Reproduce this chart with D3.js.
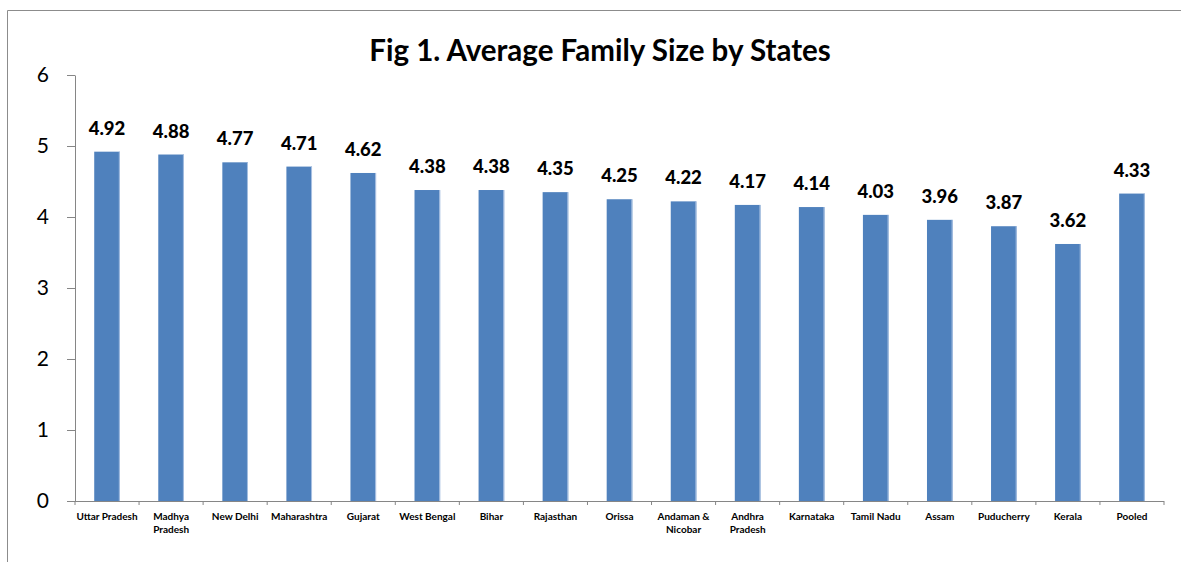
<!DOCTYPE html>
<html>
<head>
<meta charset="utf-8">
<script src="https://cdnjs.cloudflare.com/ajax/libs/d3/7.8.5/d3.min.js"></script>
<style>
  body { margin: 0; background: #fff; }
  text { font-family: Lato, "Open Sans", sans-serif; }
</style>
</head>
<body>
<div id="chart"></div>
<script>
const width = 1181,
    height = 562

// data
var states = ["Uttar Pradesh", "Madhya Pradesh", "New Delhi", "Maharashtra", "Gujarat",
    "West Bengal", "Bihar", "Rajasthan", "Orissa", "Andaman & Nicobar", "Andhra Pradesh",
    "Karnataka", "Tamil Nadu", "Assam", "Puducherry", "Kerala", "Pooled"]
var familySize = [4.92, 4.88, 4.77, 4.71, 4.62, 4.38, 4.38, 4.35, 4.25, 4.22, 4.17,
    4.14, 4.03, 3.96, 3.87, 3.62, 4.33]
var yTicks = [0, 1, 2, 3, 4, 5, 6]
// two-line category labels as in the original
var labelLines = {
    "Madhya Pradesh": ["Madhya", "Pradesh"],
    "Andaman & Nicobar": ["Andaman &", "Nicobar"],
    "Andhra Pradesh": ["Andhra", "Pradesh"]
}

var data = states.map((s, i) => ({ state: s, value: familySize[i] }))

var margin = { left: 75, right: 17, top: 75, bottom: 61 }

var svg = d3.select("#chart")
    .append("svg")
    .attr("width", width)
    .attr("height", height)

// outer frame (chart area border, cropped)
svg.append("path")
    .attr("d", `M7.5,${height} V10.5 H${width}`)
    .attr("fill", "none")
    .attr("stroke", "#8c8c8c")
    .attr("stroke-width", 1)

var x = d3.scaleBand()
    .domain(states)
    .range([margin.left, width - margin.right])
    .paddingInner(0.6)
    .paddingOuter(0.3)

var y = d3.scaleLinear()
    .domain([0, 6])
    .range([height - margin.bottom, margin.top])

svg.append("text")
    .attr("x", 600)
    .attr("y", 61)
    .attr("text-anchor", "middle")
    .attr("font-size", 29.5)
    .attr("font-weight", "bold")
    .text("Fig 1. Average Family Size by States")

// y axis
var yAxis = svg.append("g")
    .attr("transform", `translate(${margin.left},0)`)
    .call(d3.axisLeft(y).tickValues(yTicks).tickFormat(d3.format("d"))
        .tickSize(8).tickPadding(18).tickSizeOuter(0))
yAxis.select(".domain").attr("stroke", "#868686")
yAxis.selectAll(".tick line").attr("stroke", "#868686")
yAxis.selectAll(".tick text")
    .attr("font-size", 21)
    .attr("fill", "#000")
    .style("font-family", "Lato, sans-serif")

// bars
svg.append("g")
    .selectAll("rect")
    .data(data)
    .enter()
    .append("rect")
    .attr("x", d => x(d.state))
    .attr("y", d => y(d.value))
    .attr("width", x.bandwidth())
    .attr("height", d => y(0) - y(d.value))
    .attr("fill", "#4f81bd")

// light right edge like the office shading
svg.append("g")
    .selectAll("line")
    .data(data)
    .enter()
    .append("line")
    .attr("x1", d => x(d.state) + x.bandwidth() - 0.5)
    .attr("x2", d => x(d.state) + x.bandwidth() - 0.5)
    .attr("y1", d => y(d.value))
    .attr("y2", y(0))
    .attr("stroke", "#a9c1e2")
    .attr("stroke-width", 1)

// value labels
svg.append("g")
    .selectAll("text")
    .data(data)
    .enter()
    .append("text")
    .attr("x", d => x(d.state) + x.bandwidth() / 2)
    .attr("y", d => y(d.value) - 17)
    .attr("text-anchor", "middle")
    .attr("font-size", 18.5)
    .attr("font-weight", "900")
    .text(d => d.value.toFixed(2))

// x axis with ticks between categories
var xBase = svg.append("g")
xBase.append("line")
    .attr("x1", margin.left)
    .attr("x2", width - margin.right)
    .attr("y1", y(0) + 0.5)
    .attr("y2", y(0) + 0.5)
    .attr("stroke", "#868686")
xBase.selectAll("line.tick")
    .data(d3.range(states.length + 1))
    .enter()
    .append("line")
    .attr("class", "tick")
    .attr("x1", i => margin.left + i * (width - margin.left - margin.right) / states.length)
    .attr("x2", i => margin.left + i * (width - margin.left - margin.right) / states.length)
    .attr("y1", y(0))
    .attr("y2", y(0) + 4)
    .attr("stroke", "#868686")

var labels = svg.append("g")
    .selectAll("text")
    .data(data)
    .enter()
    .append("text")
    .attr("x", d => x(d.state) + x.bandwidth() / 2)
    .attr("y", y(0) + 19)
    .attr("text-anchor", "middle")
    .attr("font-size", 10)
    .attr("font-weight", "bold")

labels.selectAll("tspan")
    .data(d => labelLines[d.state] || [d.state])
    .enter()
    .append("tspan")
    .attr("x", function () { return d3.select(this.parentNode).attr("x") })
    .attr("dy", (d, i) => i === 0 ? 0 : 13)
    .text(d => d)
</script>
</body>
</html>
